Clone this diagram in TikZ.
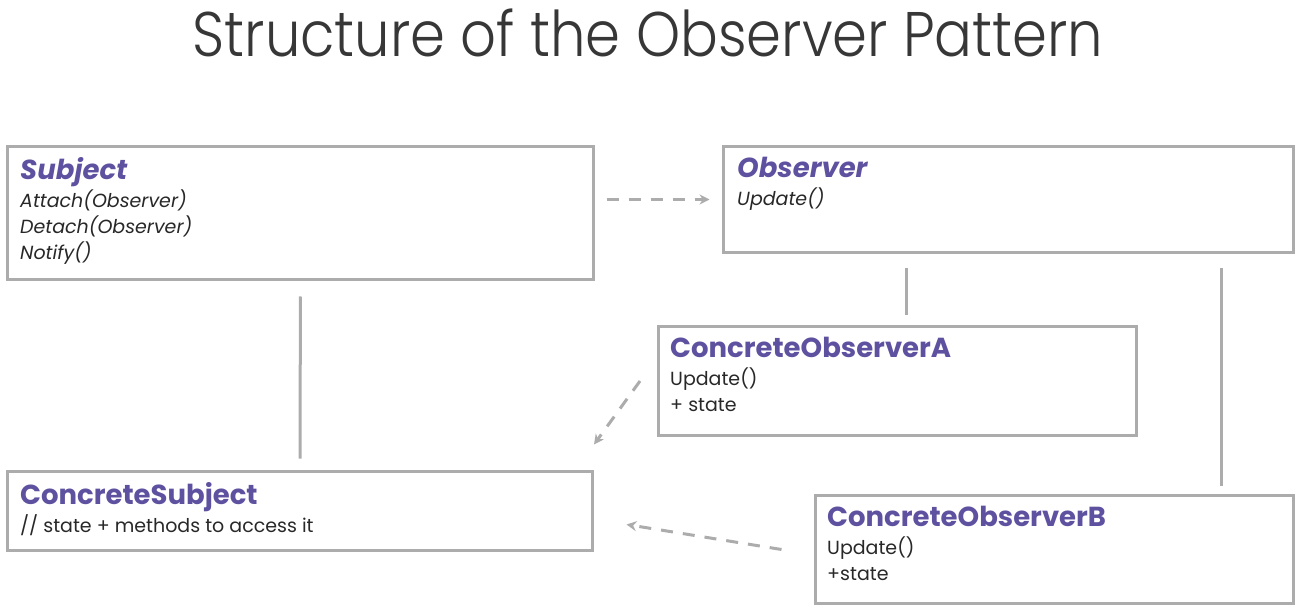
\documentclass[tikz,border=0pt]{standalone}
\usepackage{fontspec}
\setmainfont{Poppins}
\newfontfamily\titlefont{Poppins Light}
\usetikzlibrary{arrows.meta, positioning}

\definecolor{boxgray}{RGB}{172,172,172}
\definecolor{classpurple}{RGB}{94,82,160}
\definecolor{textgray}{RGB}{40,40,40}
\definecolor{titlegray}{RGB}{55,55,55}

\newcommand{\classname}[1]{{\color{classpurple}\fontsize{27.5}{26}\selectfont\bfseries #1}}

\begin{document}
\begin{tikzpicture}[x=1pt, y=-1pt,
  box/.style={draw=boxgray, line width=3pt, anchor=north west, inner sep=0pt},
  members/.style={align=left, inner sep=0pt, text=textgray, font=\fontsize{19}{26}\selectfont},
  link/.style={draw=boxgray, line width=3pt},
  dep/.style={draw=boxgray, line width=3pt, dash pattern=on 12pt off 10pt, -{Stealth[length=10pt, width=10pt]}}]
\useasboundingbox (0,0) rectangle (1300,609);

\node[font=\titlefont\fontsize{63}{63}\selectfont, text=titlegray] (title) at (648,33) {\scalebox{0.89}[1]{Structure of the Observer Pattern}};

% classes
\node[box, minimum width=586pt, minimum height=133pt] (subj) at (6,145) {};
\node[members, below right=12pt and 14pt of subj.north west] (subjtext) {\classname{\itshape Subject}\\[2pt]\itshape Attach(Observer)\\\itshape Detach(Observer)\\\itshape Notify()};

\node[box, minimum width=570pt, minimum height=106pt] (obs) at (722,145) {};
\node[members, below right=12pt and 15pt of obs.north west] (obstext) {\classname{\itshape Observer}\\[2pt]\itshape Update()};

\node[box, minimum width=478pt, minimum height=109pt] (cobsa) at (657,325) {};
\node[members, below right=12pt and 13pt of cobsa.north west] (cobsatext) {\classname{ConcreteObserverA}\\[2pt]Update()\\+ state};

\node[box, minimum width=585pt, minimum height=79pt] (csubj) at (6,470) {};
\node[members, below right=12pt and 14pt of csubj.north west] (csubjtext) {\classname{ConcreteSubject}\\[2pt]// state + methods to access it};

\node[box, minimum width=478pt, minimum height=108pt] (cobsb) at (814,494) {};
\node[members, below right=12pt and 13pt of cobsb.north west] (cobsbtext) {\classname{ConcreteObserverB}\\[2pt]Update()\\+state};

% inheritance
\draw[link, shorten <=15.5pt, shorten >=11.5pt] (subj) -- (csubj);
\draw[link, shorten <=14.5pt, shorten >=9.5pt] ([xshift=9pt]cobsa.north |- obs.south) -- ([xshift=9pt]cobsa.north);
\draw[link, shorten <=14.5pt, shorten >=8.5pt] ([xshift=167pt]cobsb.north |- obs.south) -- ([xshift=167pt]cobsb.north);

% dependencies
\draw[dep, shorten <=11.5pt, shorten >=12.5pt] (obs.west -| subj.east) -- (obs.west);
\draw[dep] ([xshift=-17pt]cobsa.west) -- ([yshift=25.5pt]csubj.north east);
\draw[dep] ([xshift=-32.5pt]cobsb.west) -- ([xshift=32.5pt, yshift=-13.5pt]csubj.east);

\end{tikzpicture}
\end{document}
